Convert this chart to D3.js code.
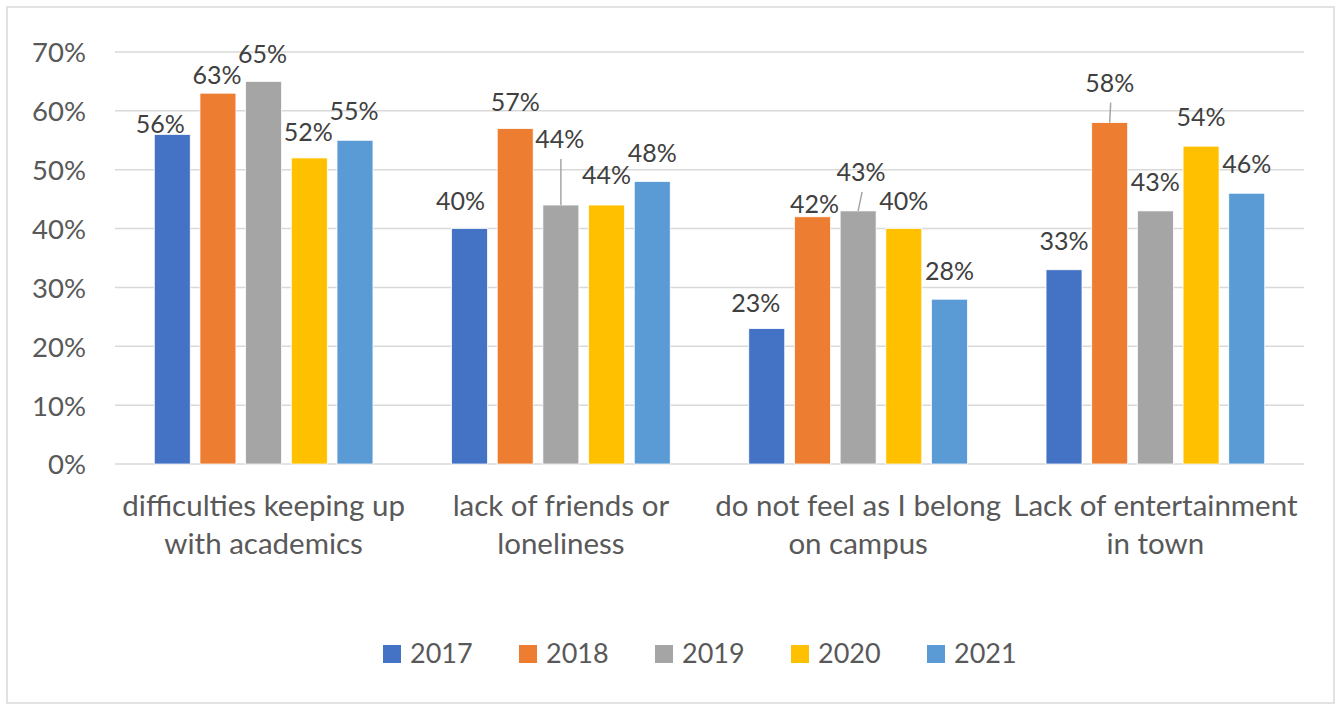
<!DOCTYPE html>
<html>
<head>
<meta charset="utf-8">
<script src="https://cdn.jsdelivr.net/npm/d3@7"></script>
<style>
  body { margin: 0; background: #fff; }
  svg text { font-family: Lato, "Open Sans", sans-serif; }
</style>
</head>
<body>
<div id="chart"></div>
<script>
// values in percent
const years = ["2017", "2018", "2019", "2020", "2021"]
const categories = [
  "difficulties keeping up with academics",
  "lack of friends or loneliness",
  "do not feel as I belong on campus",
  "Lack of entertainment in town"
]
const categoryLines = [
  ["difficulties keeping up", "with academics"],
  ["lack of friends or", "loneliness"],
  ["do not feel as I belong", "on campus"],
  ["Lack of entertainment", "in town"]
]
const s2017 = [56, 40, 23, 33]
const s2018 = [63, 57, 42, 58]
const s2019 = [65, 44, 43, 43]
const s2020 = [52, 44, 40, 54]
const s2021 = [55, 48, 28, 46]
const yTicks = [0, 10, 20, 30, 40, 50, 60, 70]

const colors = ["#4472C4", "#ED7D31", "#A5A5A5", "#FFC000", "#5B9BD5"]

// hand-placed data label nudges (px) as in the original sheet, [dx, dy] per bar
const labelNudge = [
  [[-12, 19], [-1, 11], [-1, 2], [-1, 3], [-1, 0]],
  [[-9, 1], [0, 2], [-1, -37], [0, -1], [0, 1]],
  [[-11, 3], [2, 16], [3, -10], [0, 1], [0, 1]],
  [[0, 0], [0, -11], [0, 0], [0, 0], [0, 0]]
]
const leaders = [[1, 2], [2, 2], [3, 1]]  // [category, year] pairs with a leader line

const series = [s2017, s2018, s2019, s2020, s2021]
const rows = []
categories.forEach((c, ci) => {
  years.forEach((y, yi) => {
    rows.push({ ci: ci, cat: c, year: y, yi: yi, value: series[yi][ci] })
  })
})

const width = 1338
const height = 704
const plotLeft = 115, plotRight = 1304, plotTop = 52, plotBottom = 464

const svg = d3.select("#chart").append("svg")
  .attr("width", width)
  .attr("height", height)

svg.append("rect")
  .attr("x", 7).attr("y", 7)
  .attr("width", 1327).attr("height", 696)
  .attr("fill", "#fff")
  .attr("stroke", "#d9d9d9")
  .attr("stroke-width", 1.5)

const x0 = d3.scaleBand().domain(categories).range([plotLeft, plotRight])
const x1 = d3.scaleBand().domain(years).range([0, x0.bandwidth()])
  .paddingInner(0.213).paddingOuter(0.86)
const y = d3.scaleLinear().domain([0, 70]).range([plotBottom, plotTop])

// gridlines
svg.append("g")
  .selectAll("line")
  .data(yTicks).enter()
  .append("line")
    .attr("x1", plotLeft).attr("x2", plotRight)
    .attr("y1", d => y(d)).attr("y2", d => y(d))
    .attr("stroke", "#d9d9d9")
    .attr("stroke-width", 1.5)

// y axis labels
const yAxis = d3.axisLeft(y).tickValues(yTicks).tickFormat(d => d + "%").tickSize(0).tickPadding(0)
const gy = svg.append("g")
  .attr("transform", "translate(86,0)")
  .call(yAxis)
gy.select(".domain").remove()
gy.selectAll("text")
  .attr("font-size", 27.5)
  .attr("fill", "#595959")
  .attr("font-family", "Lato")
  .attr("dy", "0.36em")

// bars
svg.append("g")
  .selectAll("rect")
  .data(rows).enter()
  .append("rect")
    .attr("x", d => x0(d.cat) + x1(d.year))
    .attr("y", d => y(d.value))
    .attr("width", x1.bandwidth())
    .attr("height", d => y(0) - y(d.value))
    .attr("fill", d => colors[d.yi])
    .attr("stroke", "#fff")
    .attr("stroke-width", 0.75)

// leader lines
const labelFont = 25
const lx = d => x0(d.cat) + x1(d.year) + x1.bandwidth() / 2 + labelNudge[d.ci][d.yi][0]
const lcy = d => y(d.value) - 29 + labelNudge[d.ci][d.yi][1]

const leaderRows = rows.filter(d => leaders.some(p => p[0] === d.ci && p[1] === d.yi))
svg.append("g")
  .selectAll("line")
  .data(leaderRows).enter()
  .append("line")
    .attr("x1", d => lx(d) + 1)
    .attr("y1", d => lcy(d) + 20)
    .attr("x2", d => x0(d.cat) + x1(d.year) + x1.bandwidth() / 2)
    .attr("y2", d => y(d.value))
    .attr("stroke", "#a6a6a6")
    .attr("stroke-width", 1.5)

// data labels
svg.append("g")
  .selectAll("text")
  .data(rows).enter()
  .append("text")
    .text(d => d.value + "%")
    .attr("x", lx)
    .attr("y", d => lcy(d) + 0.36 * labelFont)
    .attr("text-anchor", "middle")
    .attr("font-size", labelFont)
    .attr("fill", "#404040")

// category labels
const cat = svg.append("g")
  .selectAll("text")
  .data(categories).enter()
  .append("text")
    .attr("text-anchor", "middle")
    .attr("font-size", 29.5)
    .attr("fill", "#595959")
    .attr("transform", d => "translate(" + (x0(d) + x0.bandwidth() / 2) + ",516)")
cat.selectAll("tspan")
  .data((d, i) => categoryLines[i]).enter()
  .append("tspan")
    .attr("x", 0)
    .attr("y", (d, i) => i * 38)
    .text(d => d)

// legend
const legendStep = 136
const legend = svg.append("g").attr("transform", "translate(383,645)")
const item = legend.selectAll("g")
  .data(years).enter()
  .append("g")
    .attr("transform", (d, i) => "translate(" + i * legendStep + ",0)")
item.append("rect")
  .attr("width", 18).attr("height", 18)
  .attr("fill", (d, i) => colors[i])
item.append("text")
  .text(d => d)
  .attr("x", 27)
  .attr("y", 18)
  .attr("font-size", 27)
  .attr("fill", "#595959")
</script>
</body>
</html>
